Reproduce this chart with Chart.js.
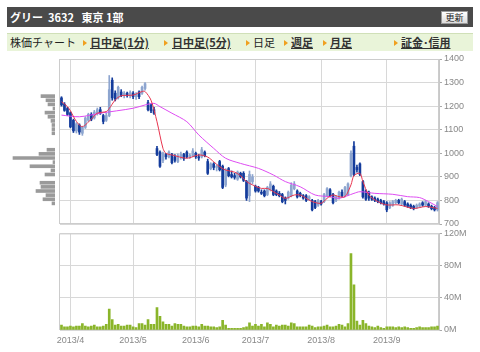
<!DOCTYPE html>
<html>
<head>
<meta charset="utf-8">
<script src="https://cdn.jsdelivr.net/npm/chart.js@4.4.0/dist/chart.umd.min.js"></script>
<style>
body{margin:0;width:480px;height:352px;background:#fff;position:relative;overflow:hidden;font-family:"Noto Sans CJK JP",sans-serif;}
#head{position:absolute;left:7px;top:7px;width:466px;height:20px;background:#4a4a4a;color:#fff;font-size:11px;font-weight:bold;line-height:20px;white-space:pre;}
#head .t{position:absolute;left:3px;top:0}
#btn{position:absolute;left:434px;top:4px;width:25px;height:11px;background:linear-gradient(#fff,#dcdcdc);border:1px solid #999;color:#222;font-size:9px;line-height:11px;text-align:center;font-weight:normal}
#nav{position:absolute;left:7px;top:33px;width:466px;height:17px;background:#e9f4d9;border-top:1px solid #d0e0b8;font-size:11px;line-height:17px;color:#222}
.it{position:absolute;top:0;white-space:nowrap}
.ln{font-weight:bold;text-decoration:underline;color:#333}
.mk{position:absolute;top:6px;width:0;height:0;border-left:4px solid #f0a020;border-top:3px solid transparent;border-bottom:3px solid transparent}
canvas{position:absolute}
</style>
</head>
<body>
<div id="head"><span class="t">グリー  3632   東京 1部</span><div id="btn">更新</div></div>
<div id="nav">
  <span class="it" style="left:3px">株価チャート</span>
  <span class="mk" style="left:76px"></span><span class="it ln" style="left:83px">日中足(1分)</span>
  <span class="mk" style="left:157px"></span><span class="it ln" style="left:165px">日中足(5分)</span>
  <span class="mk" style="left:239px"></span><span class="it" style="left:246px">日足</span>
  <span class="mk" style="left:277px"></span><span class="it ln" style="left:284px">週足</span>
  <span class="mk" style="left:316px"></span><span class="it ln" style="left:323px">月足</span>
  <span class="mk" style="left:387px"></span><span class="it ln" style="left:394px">証金･信用</span>
</div>
<canvas id="hist" width="55" height="182" style="left:0;top:50px"></canvas>
<canvas id="price" width="480" height="182" style="left:0;top:50px"></canvas>
<canvas id="vol" width="480" height="126" style="left:0;top:226px"></canvas>
<script>
const dates = ['3/27','3/28','3/29',
  '4/1','4/2','4/3','4/4','4/5','4/8','4/9','4/10','4/11','4/12','4/15','4/16','4/17','4/18','4/19','4/22','4/23','4/24','4/25','4/26','4/30',
  '5/1','5/2','5/7','5/8','5/9','5/10','5/13','5/14','5/15','5/16','5/17','5/20','5/21','5/22','5/23','5/24','5/27','5/28','5/29','5/30','5/31',
  '6/3','6/4','6/5','6/6','6/7','6/10','6/11','6/12','6/13','6/14','6/17','6/18','6/19','6/20','6/21','6/24','6/25','6/26','6/27','6/28',
  '7/1','7/2','7/3','7/4','7/5','7/8','7/9','7/10','7/11','7/12','7/16','7/17','7/18','7/19','7/22','7/23','7/24','7/25','7/26','7/29','7/30','7/31',
  '8/1','8/2','8/5','8/6','8/7','8/8','8/9','8/12','8/13','8/14','8/15','8/16','8/19','8/20','8/21','8/22','8/23','8/26','8/27','8/28','8/29','8/30',
  '9/2','9/3','9/4','9/5','9/6','9/9','9/10','9/11','9/12','9/13','9/17','9/18','9/19','9/20','9/24','9/25','9/26','9/27'];

const opens = [1235,1208,1190,1172,1140,1095,1120,1085,1110,1140,
  1165,1150,1170,1185,1160,1140,1160,1310,1255,1235,
  1260,1245,1255,1245,1255,1240,1260,1255,1275,1215,
  1205,1185,1020,1005,970,995,985,995,985,965,
  985,995,1005,985,990,1000,985,985,1005,965,
  935,955,940,965,945,865,935,910,905,890,
  915,915,880,820,880,860,855,835,840,825,
  845,860,840,830,825,810,810,820,850,840,
  830,820,820,805,800,795,780,795,795,820,
  845,825,800,810,835,820,825,905,1030,940,
  955,880,840,835,815,810,805,800,795,790,
  770,780,790,800,785,795,785,780,775,770,
  775,790,780,785,775,770,760];
const highs = [1240,1215,1195,1176,1145,1130,1125,1115,1155,1170,
  1172,1182,1192,1195,1165,1170,1330,1320,1265,1285,
  1270,1262,1260,1265,1262,1258,1265,1285,1300,1225,
  1210,1195,1030,1010,1005,1000,1010,1000,995,998,
  1005,1000,1010,998,1020,1005,995,1025,1010,975,
  960,960,950,970,950,935,940,925,915,925,
  920,922,885,925,910,865,860,845,845,860,
  880,865,845,838,830,815,840,875,880,845,
  835,825,825,820,805,800,805,800,830,855,
  850,830,820,840,845,860,875,1010,1050,950,
  960,885,845,840,820,815,810,805,800,795,
  795,800,805,805,810,800,790,785,780,785,
  790,795,800,790,780,775,795];
const lows = [1200,1178,1160,1108,1088,1086,1080,1076,1105,1135,
  1138,1145,1162,1165,1125,1135,1155,1225,1222,1230,
  1240,1235,1238,1235,1232,1228,1232,1250,1268,1180,
  1172,1165,990,940,960,975,980,955,962,960,
  975,970,980,978,985,978,970,980,985,910,
  930,930,925,925,850,858,900,895,890,885,
  895,880,800,795,870,835,835,825,815,820,
  840,820,820,815,790,785,805,815,845,810,
  815,805,795,800,755,765,775,780,790,815,
  815,785,795,805,815,815,820,900,905,920,
  905,810,800,800,800,795,790,785,780,752,
  765,775,785,785,780,775,770,765,760,765,
  770,775,775,770,760,755,755];
const closes = [1205,1182,1165,1112,1095,1125,1090,1110,1150,1165,
  1145,1175,1185,1170,1135,1160,1270,1235,1230,1280,
  1245,1255,1245,1258,1240,1250,1240,1280,1295,1185,
  1180,1170,995,945,1000,985,1005,960,970,990,
  995,978,985,992,1010,985,980,1015,990,915,
  955,940,945,930,855,930,905,900,898,920,
  900,885,810,910,900,840,840,830,820,855,
  870,825,825,820,795,800,835,865,870,815,
  820,810,800,815,760,770,800,785,825,850,
  820,790,815,835,820,855,870,1000,910,930,
  910,815,805,810,805,800,795,790,785,760,
  790,795,800,790,805,780,775,770,765,780,
  785,780,795,775,765,760,790];

// volume, millions of shares
const volumes = [6,4,4,5,4,5,5,8,5,4,
  5,6,4,4,5,7,26,13,6,7,
  5,5,6,6,4,3,8,8,6,13,
  7,7,28,17,10,7,7,5,8,7,
  7,5,4,4,5,5,4,7,5,5,
  4,4,3,4,12,6,2,2,2,2,
  2,3,4,9,5,7,5,7,4,9,
  7,4,6,5,6,6,5,9,8,4,
  4,4,4,6,5,3,4,4,5,6,
  4,4,5,7,6,4,8,95,56,11,
  6,12,8,5,4,3,5,3,2,4,
  4,4,3,4,3,4,3,2,2,3,
  4,3,3,3,4,4,5];

// short moving average (red), read at these days
const maShortDays = ['3/27','3/29','4/1','4/3','4/5','4/10','4/12','4/17','4/18','4/22','4/24','5/1','5/8','5/9','5/13','5/15','5/17','5/20','5/22','5/29',
  '6/4','6/7','6/11','6/13','6/17','6/20','6/24','6/26','6/28','7/3','7/5','7/9','7/11','7/16','7/19','7/23','7/25','7/29',
  '8/1','8/5','8/7','8/9','8/13','8/15','8/16','8/20','8/21','8/23','8/28','9/2','9/6','9/13','9/20','9/27'];
const maShortVals = [1219,1198,1180,1135,1113,1145,1170,1177,1190,1226,1244,1247,1262,1262,1225,1134,1021,1000,993,979,
  993,984,964,943,929,920,905,880,866,851,851,837,823,809,823,823,809,795,
  788,809,823,816,816,866,905,915,880,823,795,781,781,766,774,766];

// long moving average (magenta)
const maLongDays = ['3/27','4/4','4/15','5/1','5/9','5/14','5/16','5/22','5/29','6/4','6/11','6/17','6/24','7/2','7/9','7/16','7/23','7/30',
  '8/6','8/9','8/16','8/20','8/27','9/4','9/11','9/18','9/24','9/27'];
const maLongVals = [1162,1155,1170,1191,1205,1212,1198,1170,1134,1078,1021,979,957,936,908,880,858,823,
  816,809,830,837,830,826,816,812,795,774];

// volume by price (left histogram)
const levelPrices = [1270,1250,1230,1210,1190,1170,1150,1130,1110,1090,1010,990,970,950,930,910,890,850,830,810,790,770,750];
const levelVol = [14,9,7,2,10,7,4,3,3,3,8,16,42,2,25,4,10,15,14,19,9,12,3];

const priceTicks = [700,800,900,1000,1100,1200,1300,1400];
const volTicks = [0,40,80,120];

const UP = '#8da5cf';
const DOWN = '#143c9c';
const GRID = '#d8d8d8';
const TICKFONT = { family: 'Liberation Sans', size: 9 };

function monthStart(i) {
  return i > 0 && dates[i].split('/')[0] !== dates[i - 1].split('/')[0];
}
function candleColor(c) {
  return closes[c.dataIndex] >= opens[c.dataIndex] ? UP : DOWN;
}

const frame = {
  id: 'frame',
  beforeDatasetsDraw(chart) {
    const { ctx, chartArea: a } = chart;
    ctx.save();
    ctx.strokeStyle = '#cccccc';
    ctx.lineWidth = 1;
    ctx.strokeRect(a.left - 0.5, a.top + 0.5, a.width, a.height - 1);
    ctx.restore();
  }
};

const xBase = {
  type: 'category',
  offset: true,
  grid: { offset: false, drawTicks: false, color: c => monthStart(c.index) ? GRID : 'transparent' },
  border: { display: false },
  ticks: { autoSkip: false, maxRotation: 0, minRotation: 0 }
};

new Chart(document.getElementById('price'), {
  data: {
    labels: dates,
    datasets: [
      { type: 'line', data: maShortDays.map((d, i) => ({ x: d, y: maShortVals[i] })), borderColor: '#e8344e', borderWidth: 1, pointRadius: 0, tension: 0.3, order: 0 },
      { type: 'line', data: maLongDays.map((d, i) => ({ x: d, y: maLongVals[i] })), borderColor: '#de4cf2', borderWidth: 1, pointRadius: 0, tension: 0.3, order: 1 },
      { type: 'bar', data: opens.map((o, i) => [Math.min(o, closes[i]), Math.max(o, closes[i])]), backgroundColor: candleColor, barThickness: 2, grouped: false, order: 2 },
      { type: 'bar', data: lows.map((l, i) => [l, highs[i]]), backgroundColor: candleColor, barThickness: 1, grouped: false, order: 3 }
    ]
  },
  options: {
    responsive: false,
    animation: false,
    layout: { padding: { left: 60, top: 9, bottom: 8, right: 0 } },
    plugins: { legend: { display: false }, tooltip: { enabled: false } },
    scales: {
      x: { ...xBase, ticks: { display: false }, afterFit: s => { s.height = 0; } },
      y: {
        position: 'right', min: 700, max: 1400,
        afterBuildTicks: s => { s.ticks = priceTicks.map(v => ({ value: v })); },
        afterFit: s => { s.width = 41; },
        grid: { color: GRID, tickLength: 3, tickColor: '#aaa' },
        border: { color: '#c8c8c8' },
        ticks: { color: '#888', font: TICKFONT, padding: 2, callback: v => String(v) }
      }
    }
  },
  plugins: [frame]
});

new Chart(document.getElementById('vol'), {
  type: 'bar',
  data: {
    labels: dates,
    datasets: [{ data: volumes, backgroundColor: '#8ab52a', barThickness: 2 }]
  },
  options: {
    responsive: false,
    animation: false,
    layout: { padding: { left: 60, top: 5, bottom: 0, right: 0 } },
    plugins: { legend: { display: false }, tooltip: { enabled: false } },
    scales: {
      x: {
        ...xBase,
        afterFit: s => { s.height = 22; },
        ticks: { autoSkip: false, maxRotation: 0, minRotation: 0, color: '#888', font: TICKFONT, padding: 5,
          callback: (v, i) => monthStart(i) ? '2013/' + dates[i].split('/')[0] : '' }
      },
      y: {
        position: 'right', min: 0, max: 120,
        afterBuildTicks: s => { s.ticks = volTicks.map(v => ({ value: v })); },
        afterFit: s => { s.width = 41; },
        grid: { color: GRID, tickLength: 3, tickColor: '#aaa' },
        border: { color: '#c8c8c8' },
        ticks: { color: '#888', font: TICKFONT, padding: 2, callback: v => v + 'M' }
      }
    }
  },
  plugins: [frame]
});

new Chart(document.getElementById('hist'), {
  type: 'bar',
  data: {
    datasets: [{ data: levelPrices.map((p, i) => ({ x: levelVol[i], y: p })), backgroundColor: '#9a9a9a', barThickness: 3 }]
  },
  options: {
    indexAxis: 'y',
    responsive: false,
    animation: false,
    layout: { padding: { left: 0, top: 9, bottom: 8, right: 0 } },
    plugins: { legend: { display: false }, tooltip: { enabled: false } },
    scales: {
      x: { display: false, min: 0, max: 55, reverse: true },
      y: { type: 'linear', display: false, min: 700, max: 1400 }
    }
  }
});
</script>
</body>
</html>
